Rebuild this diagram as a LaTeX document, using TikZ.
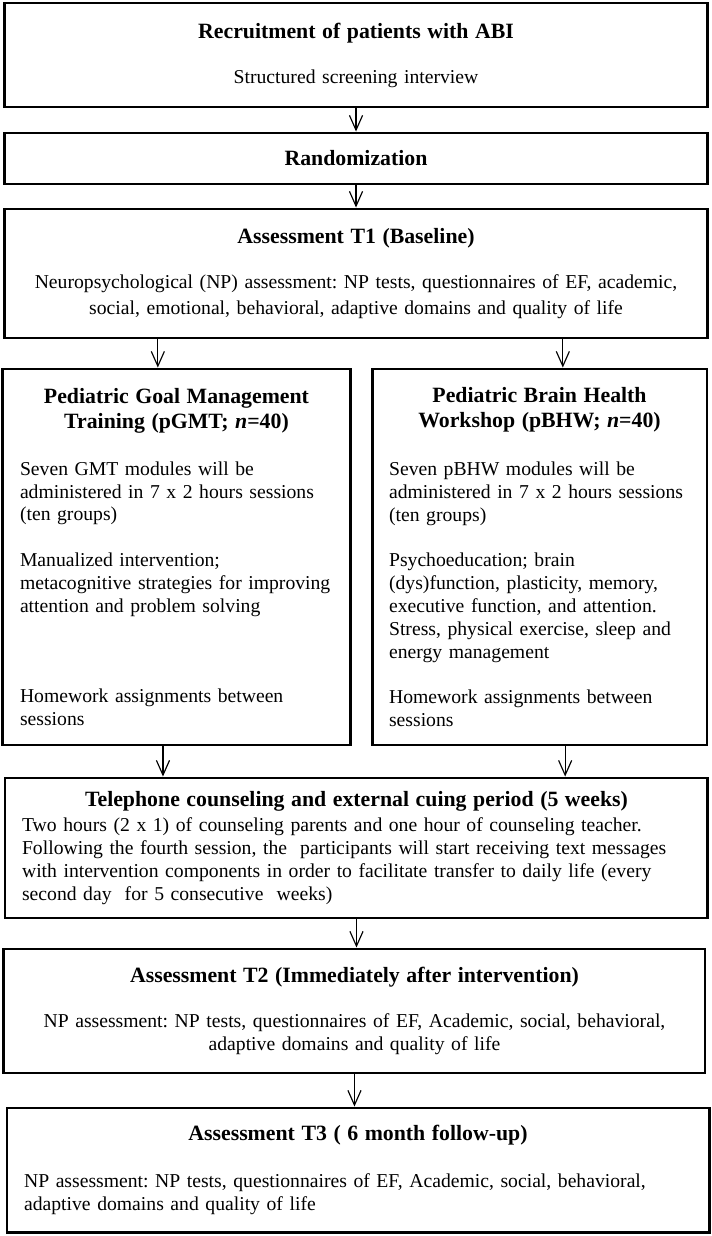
\documentclass[tikz,border=0pt]{standalone}
\usepackage{fontspec}
\setmainfont{Liberation Serif}
\usetikzlibrary{arrows.meta}
\frenchspacing

\newcommand{\bodyfont}{\fontsize{12}{13.9}\selectfont}
\newcommand{\headfont}{\fontsize{13.3}{15.3}\selectfont\bfseries}

\begin{document}
\begin{tikzpicture}[scale=1, nodes={draw, line width=1.8pt, inner xsep=10.4pt, inner ysep=0pt, font=\bodyfont},
    >={Straight Barb[length=9pt,width=8pt]}, arr/.style={->, line width=0.7pt}]
        \useasboundingbox (0,0) rectangle (15.265,-26.5);

        \node[text width=14.36cm, minimum height=2.23cm, align=center] (recruit) at (7.633,-1.179)
            {{\headfont Recruitment of patients with ABI}\\[13.6pt] Structured screening interview\par\vspace{5pt}};
        \node[text width=14.36cm, minimum height=1.093cm, align=center] (random) at (7.633,-3.398)
            {\headfont Randomization};
        \node[text width=14.36cm, minimum height=2.766cm, align=center] (t1) at (7.633,-5.864)
            {{\headfont Assessment T1 (Baseline)}\\[13.6pt]
            Neuropsychological (NP) assessment: NP tests, questionnaires of EF, academic,\\[1.4pt]
            social, emotional, behavioral, adaptive domains and quality of life};

        \node[text width=6.71cm, minimum height=8.061cm, align=left] (gmt) at (3.784,-11.942)
            {{\centering\headfont Pediatric Goal Management\\ Training (pGMT; \textit{n}=40)\par}\vspace{14.8pt}
            Seven GMT modules will be\\ administered in 7 x 2 hours sessions\\ (ten groups)\\[13.9pt]
            Manualized intervention;\\ metacognitive strategies for improving\\ attention and problem solving\\[41.6pt]
            Homework assignments between\\ sessions};
        \node[text width=6.45cm, minimum height=8.061cm, align=left] (bhw) at (11.567,-11.942)
            {{\centering\headfont Pediatric Brain Health\\ Workshop (pBHW; \textit{n}=40)\par}\vspace{15.5pt}
            Seven pBHW modules will be\\ administered in 7 x 2 hours sessions\\ (ten groups)\\[13.9pt]
            Psychoeducation; brain\\ (dys)function, plasticity, memory,\\ executive function, and attention.\\
            Stress, physical exercise, sleep and\\ energy management\\[13.9pt]
            Homework assignments between\\ sessions};

        \node[text width=14.34cm, minimum height=3.002cm, align=left] (phone) at (7.643,-18.181)
            {{\centering\headfont Telephone counseling and external cuing period (5 weeks)\par}\vspace{1.4pt}
            Two hours (2 x 1) of counseling parents and one hour of counseling teacher.\\
            Following the fourth session, the\ \ participants will start receiving text messages\\
            with intervention components in order to facilitate transfer to daily life (every\\
            second day\ \ for 5 consecutive\ \ weeks)};
        \node[text width=14.30cm, minimum height=2.659cm, align=center] (t2) at (7.600,-21.676)
            {{\headfont Assessment T2 (Immediately after intervention)}\\[13.6pt]
            NP assessment: NP tests, questionnaires of EF, Academic, social, behavioral,\\
            adaptive domains and quality of life};
        \node[text width=14.32cm, minimum height=2.659cm, align=left] (t3) at (7.676,-25.085)
            {{\centering\headfont Assessment T3 ( 6 month follow-up)\par}\vspace{15pt}
            NP assessment: NP tests, questionnaires of EF, Academic, social, behavioral,\\
            adaptive domains and quality of life};

        \draw[arr] (recruit) -- (random);
        \draw[arr] (random) -- (t1);
        \draw[arr] ([xshift=-0.4cm]gmt.north |- t1.south) -- ([xshift=-0.4cm]gmt.north);
        \draw[arr] ([xshift=0.5cm]bhw.north |- t1.south) -- ([xshift=0.5cm]bhw.north);
        \draw[arr] ([xshift=-0.29cm]gmt.south) -- ([xshift=-0.29cm]gmt.south |- phone.north);
        \draw[arr] ([xshift=0.55cm]bhw.south) -- ([xshift=0.55cm]bhw.south |- phone.north);
        \draw[arr] (phone.south) -- (phone.south |- t2.north);
        \draw[arr] (t2.south) -- (t2.south |- t3.north);

    \end{tikzpicture}
\end{document}
